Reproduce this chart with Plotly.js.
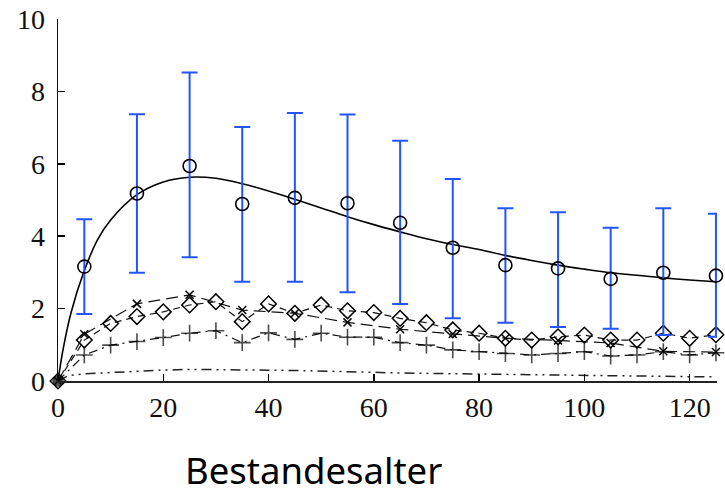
<!DOCTYPE html>
<html>
<head>
<meta charset="utf-8">
<script src="https://cdn.plot.ly/plotly-3.0.1.min.js"></script>
<style>html,body{margin:0;padding:0;background:#fff;}#chart{width:725px;height:495px;}</style>
</head>
<body>
<div id="chart"></div>
<script>
// Observed means with error bars (circles)
const circleAge = [5, 15, 25, 35, 45, 55, 65, 75, 85, 95, 105, 115, 125];
const circleVal = [3.16, 5.18, 5.94, 4.89, 5.06, 4.91, 4.37, 3.68, 3.20, 3.11, 2.82, 2.99, 2.91];
const circleUpper = [4.47, 7.37, 8.52, 7.02, 7.40, 7.36, 6.64, 5.58, 4.77, 4.66, 4.23, 4.77, 4.62];
const circleLower = [1.85, 2.99, 3.42, 2.74, 2.74, 2.45, 2.13, 1.73, 1.61, 1.49, 1.44, 1.27, 1.22];

// Fitted curve (solid)
const fitAge = [0, 1, 2.5, 5, 7.5, 10, 15, 20, 25, 30, 35, 40, 45, 50, 55, 60, 65, 70, 75, 80, 85, 90, 95, 100, 105, 110, 115, 120, 125];
const fitVal = [0, 0.9, 1.9, 3.05, 3.9, 4.45, 5.15, 5.5, 5.63, 5.6, 5.45, 5.25, 5.02, 4.78, 4.54, 4.32, 4.12, 3.93, 3.77, 3.63, 3.47, 3.33, 3.2, 3.09, 2.99, 2.92, 2.85, 2.79, 2.74];

// Diamond series
const diamondAge = [0, 5, 10, 15, 20, 25, 30, 35, 40, 45, 50, 55, 60, 65, 70, 75, 80, 85, 90, 95, 100, 105, 110, 115, 120, 125];
const diamondVal = [0, 1.13, 1.59, 1.78, 1.91, 2.10, 2.19, 1.64, 2.13, 1.87, 2.10, 1.94, 1.89, 1.73, 1.61, 1.41, 1.32, 1.18, 1.13, 1.22, 1.27, 1.13, 1.13, 1.32, 1.18, 1.28];

// Cross (x) series
const crossAge = [0, 5, 15, 25, 35, 45, 55, 65, 75, 85, 95, 105, 115, 125];
const crossVal = [0, 1.29, 2.13, 2.38, 1.96, 1.87, 1.62, 1.43, 1.30, 1.18, 1.12, 1.05, 0.82, 0.80];

// Plus series
const plusAge = [0, 5, 10, 15, 20, 25, 30, 35, 40, 45, 50, 55, 60, 65, 70, 75, 80, 85, 90, 95, 100, 105, 110, 115, 120, 125];
const plusVal = [0, 0.72, 0.99, 1.09, 1.20, 1.32, 1.39, 1.06, 1.33, 1.15, 1.32, 1.21, 1.21, 1.06, 0.99, 0.86, 0.81, 0.76, 0.72, 0.76, 0.81, 0.69, 0.72, 0.81, 0.72, 0.78];

// Bottom dash-dot-dot line
const lowAge = [0, 2, 5, 10, 15, 20, 25, 30, 35, 40, 45, 50, 55, 60, 65, 70, 75, 80, 85, 90, 95, 100, 105, 110, 115, 120, 125];
const lowVal = [0, 0.15, 0.2, 0.24, 0.27, 0.3, 0.32, 0.32, 0.31, 0.3, 0.29, 0.28, 0.26, 0.24, 0.22, 0.21, 0.19, 0.18, 0.17, 0.17, 0.16, 0.16, 0.15, 0.14, 0.13, 0.12, 0.12];

const xTicks = [0, 20, 40, 60, 80, 100, 120];
const yTicks = [0, 2, 4, 6, 8, 10];
const xLabel = 'Bestandesalter';

const traces = [
  {x: lowAge, y: lowVal, mode: 'lines', cliponaxis: false,
   line: {color: '#222', width: 1.5, dash: '10px,5px,2px,5px,2px,5px'}},
  {x: plusAge, y: plusVal, mode: 'lines+markers', cliponaxis: false,
   line: {color: '#111', width: 1.2, dash: '9px,5px,2px,5px'},
   marker: {symbol: plusAge.map((a, i) => i === 0 ? 'circle' : 'cross-thin-open'), size: plusAge.map((a, i) => i === 0 ? 10 : 12), color: '#000', line: {color: '#000', width: 1.6}}},
  {x: crossAge, y: crossVal, mode: 'lines+markers', cliponaxis: false,
   line: {color: '#111', width: 1.2, dash: '12px,6px'},
   marker: {symbol: 'x-thin-open', size: 8, color: '#000', line: {color: '#000', width: 1.5}}},
  {x: diamondAge, y: diamondVal, mode: 'lines+markers', cliponaxis: false,
   line: {color: '#111', width: 1.2, dash: '7px,5px'},
   marker: {symbol: 'diamond-open', size: 12, color: '#000', line: {color: '#000', width: 1.5}}},
  {x: fitAge, y: fitVal, mode: 'lines', cliponaxis: false,
   line: {color: '#000', width: 1.6, shape: 'spline', smoothing: 1}},
  {x: circleAge, y: circleVal, mode: 'markers', cliponaxis: false,
   marker: {symbol: 'circle-open', size: 13, color: '#000', line: {color: '#000', width: 1.6}},
   error_y: {type: 'data', symmetric: false,
     array: circleUpper.map((u, i) => u - circleVal[i]),
     arrayminus: circleLower.map((l, i) => circleVal[i] - l),
     color: '#2255ff', thickness: 2, width: 8}}
];

const layout = {
  width: 725, height: 495,
  margin: {l: 58, r: 8, t: 19, b: 114},
  paper_bgcolor: '#fff', plot_bgcolor: '#fff',
  showlegend: false,
  xaxis: {range: [0, 125.2], tickvals: xTicks, ticktext: xTicks.map(String),
    ticks: 'inside', ticklen: 7, tickwidth: 1.5, tickcolor: '#000',
    showline: true, linecolor: '#222', linewidth: 2, showgrid: false, zeroline: false,
    tickfont: {family: 'Liberation Serif, serif', size: 28, color: '#111'}},
  yaxis: {range: [0, 10], tickvals: yTicks, ticktext: yTicks.map(String),
    ticks: 'inside', ticklen: 7, tickwidth: 1.5, tickcolor: '#000',
    showline: true, linecolor: '#111', linewidth: 1.5, showgrid: false, zeroline: false,
    ticklabelstandoff: 6,
    tickfont: {family: 'Liberation Serif, serif', size: 28, color: '#111'}},
  annotations: [{text: xLabel, xref: 'paper', yref: 'paper', x: (313 - 58) / 659, y: -0.247,
    xanchor: 'center', yanchor: 'middle', showarrow: false, borderpad: 0,
    font: {family: 'Noto Sans, sans-serif', size: 36.5, color: '#000'}}]
};

Plotly.newPlot('chart', traces, layout, {displayModeBar: false, staticPlot: true});
</script>
</body>
</html>
